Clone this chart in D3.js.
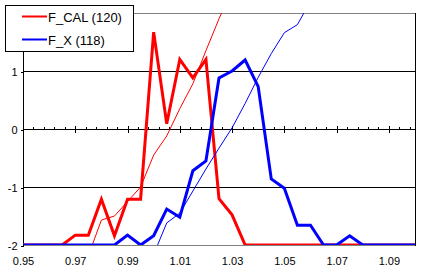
<!DOCTYPE html>
<html>
<head>
<meta charset="utf-8">
<script src="https://cdn.jsdelivr.net/npm/d3@7"></script>
<style>
  body { margin: 0; background: #fff; }
  svg { display: block; font-family: Arial, "Liberation Sans", sans-serif; }
</style>
</head>
<body>
<svg id="chart" width="430" height="272"></svg>
<script>
// bins of the frequency polygons
var bins = [0.950, 0.955, 0.960, 0.965, 0.970, 0.975, 0.980, 0.985, 0.990, 0.995,
  1.000, 1.005, 1.010, 1.015, 1.020, 1.025, 1.030, 1.035, 1.040, 1.045,
  1.050, 1.055, 1.060, 1.065, 1.070, 1.075, 1.080, 1.085, 1.090, 1.095, 1.100];

// thick lines
var calFreq = [-2, -2, -2, -2, -1.83, -1.83, -1.21, -1.84, -1.21, -1.21,
  1.67, 0.09, 1.2, 0.88, 1.2, -1.2, -1.48, -2, -2, -2,
  -2, -2, -2, -2, -2, -2, -2, -2, -2, -2, -2];
var xFreq = [-2, -2, -2, -2, -2, -2, -2, -2, -1.83, -2,
  -1.84, -1.38, -1.52, -0.72, -0.55, 0.88, 1.0, 1.19, 0.73, -0.86,
  -1.02, -1.66, -1.66, -2, -2, -1.84, -2, -2, -2, -2, -2];

// thin lines
var calCumX = [0.9765, 0.980, 0.985, 0.990, 0.995, 1.000, 1.005, 1.010, 1.015, 1.020, 1.025, 1.030];
var calCumY = [-2, -1.57, -1.5, -1.25, -1.0, -0.45, -0.12, 0.35, 0.78, 1.35, 1.9, 2.4];
var xCumX = [1.0015, 1.005, 1.010, 1.015, 1.020, 1.025, 1.030, 1.035, 1.040, 1.045, 1.050, 1.055, 1.060];
var xCumY = [-2, -1.62, -1.45, -1.07, -0.69, -0.33, 0.02, 0.44, 0.89, 1.3, 1.66, 1.8, 2.2];

var xLabels = ['0.95', '0.97', '0.99', '1.01', '1.03', '1.05', '1.07', '1.09'];
var yTicks = [-2, -1, 0, 1, 2];
var legendNames = ['F_CAL (120)', 'F_X (118)'];
var colors = ['#ff0000', '#0000ff'];

var svg = d3.select('#chart');
var x = d3.scaleLinear().domain([0.95, 1.10]).range([23, 415]);
var y = d3.scaleLinear().domain([-2, 2]).range([245, 13]);

svg.append('rect').attr('width', 430).attr('height', 272).attr('fill', '#fff');

svg.append('clipPath').attr('id', 'plot-clip')
  .append('rect').attr('x', 23).attr('y', 13).attr('width', 392).attr('height', 232);

var frame = svg.append('g').attr('shape-rendering', 'crispEdges');

// horizontal grid lines
frame.selectAll('.grid').data([1, -1]).enter().append('line')
  .attr('x1', 23).attr('x2', 415)
  .attr('y1', d => y(d) + 0.5).attr('y2', d => y(d) + 0.5)
  .attr('stroke', '#000');
frame.selectAll('.edge').data([2, -2]).enter().append('line')
  .attr('x1', 23).attr('x2', 415)
  .attr('y1', d => y(d) + 0.5).attr('y2', d => y(d) + 0.5)
  .attr('stroke', '#808080');
frame.append('line')
  .attr('x1', 415.5).attr('x2', 415.5).attr('y1', 13).attr('y2', 246)
  .attr('stroke', '#000');

// left axis
var yAxis = svg.append('g')
  .attr('transform', 'translate(23.5,0.5)')
  .attr('shape-rendering', 'crispEdges')
  .call(d3.axisLeft(y).tickValues(yTicks).tickSize(3).tickPadding(3).tickFormat(d3.format('d')));
yAxis.select('.domain').attr('d', 'M0,' + (y(2) - 0.5) + 'V' + (y(-2) + 0.5));
yAxis.selectAll('text').attr('font-size', 11).attr('font-family', 'Arial, "Liberation Sans", sans-serif')
  .text(d => d < 0 ? '-' + Math.abs(d) : d);

// zero axis with crossing ticks
var zero = svg.append('g').attr('shape-rendering', 'crispEdges');
zero.append('line')
  .attr('x1', 23).attr('x2', 415)
  .attr('y1', y(0) + 0.5).attr('y2', y(0) + 0.5)
  .attr('stroke', '#000');
var majors = xLabels.map(Number);
var minors = d3.range(0.954, 1.1, 0.004).filter(v => !majors.some(m => Math.abs(m - v) < 1e-6));
zero.selectAll('.major').data(majors).enter().append('line')
  .attr('x1', d => Math.round(x(d)) + 0.5).attr('x2', d => Math.round(x(d)) + 0.5)
  .attr('y1', y(0) - 3).attr('y2', y(0) + 4)
  .attr('stroke', '#000');
zero.selectAll('.minor').data(minors).enter().append('line')
  .attr('x1', d => Math.round(x(d)) + 0.5).attr('x2', d => Math.round(x(d)) + 0.5)
  .attr('y1', y(0) - 2).attr('y2', y(0) + 0.5)
  .attr('stroke', '#000');

// bottom labels
var xAxis = svg.append('g')
  .attr('transform', 'translate(0,245)')
  .call(d3.axisBottom(x).tickValues(majors).tickSize(0).tickPadding(12).tickFormat((d, i) => xLabels[i]));
xAxis.select('.domain').remove();
xAxis.selectAll('text').attr('font-size', 11).attr('font-family', 'Arial, "Liberation Sans", sans-serif');

// series
var plot = svg.append('g').attr('clip-path', 'url(#plot-clip)');
var line = d3.line().x(d => x(d[0])).y(d => y(d[1]));

plot.append('path')
  .datum(d3.zip(calCumX, calCumY))
  .attr('d', line).attr('fill', 'none').attr('stroke', colors[0]).attr('stroke-width', 1);
plot.append('path')
  .datum(d3.zip(bins, calFreq))
  .attr('d', line).attr('fill', 'none').attr('stroke', colors[0]).attr('stroke-width', 3)
  .attr('stroke-linejoin', 'miter');
plot.append('path')
  .datum(d3.zip(xCumX, xCumY))
  .attr('d', line).attr('fill', 'none').attr('stroke', colors[1]).attr('stroke-width', 1);
plot.append('path')
  .datum(d3.zip(bins, xFreq))
  .attr('d', line).attr('fill', 'none').attr('stroke', colors[1]).attr('stroke-width', 3)
  .attr('stroke-linejoin', 'miter');

// legend
var legend = svg.append('g');
legend.append('rect')
  .attr('x', 5.5).attr('y', 5.5).attr('width', 128).attr('height', 46)
  .attr('fill', '#fff').attr('stroke', '#000').attr('shape-rendering', 'crispEdges');
var item = legend.selectAll('.item').data(legendNames).enter().append('g')
  .attr('transform', (d, i) => 'translate(0,' + (16.5 + i * 23) + ')');
item.append('line')
  .attr('x1', 22).attr('x2', 47).attr('y1', 0).attr('y2', 0)
  .attr('stroke', (d, i) => colors[i]).attr('stroke-width', 2);
item.append('text')
  .attr('x', 48).attr('y', 5)
  .attr('font-size', 13)
  .attr('fill', '#000')
  .text(d => d);
</script>
</body>
</html>
